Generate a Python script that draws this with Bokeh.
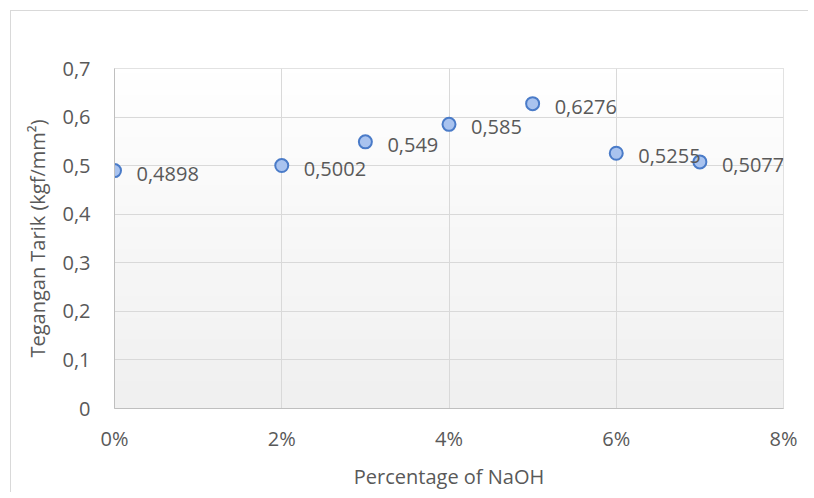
import numpy as np
from bokeh.plotting import figure
from bokeh.models import ColumnDataSource, FixedTicker, Range1d
from bokeh.core.properties import value
from bokeh.embed import file_html
from bokeh.resources import INLINE

# data
naoh = [0.00, 0.02, 0.03, 0.04, 0.05, 0.06, 0.07]
tensile = [0.4898, 0.5002, 0.549, 0.585, 0.6276, 0.5255, 0.5077]
point_labels = [f"{v}".replace(".", ",") for v in tensile]

x_ticks = [0.0, 0.02, 0.04, 0.06, 0.08]
x_tick_labels = ["0%", "2%", "4%", "6%", "8%"]
y_ticks = [0.0, 0.1, 0.2, 0.3, 0.4, 0.5, 0.6, 0.7]
y_tick_labels = ["0", "0,1", "0,2", "0,3", "0,4", "0,5", "0,6", "0,7"]

x_min, x_max = 0.0, 0.08
y_min, y_max = 0.0, 0.7

FONT = "Open Sans"
TXT = "#595959"

p = figure(frame_width=669, frame_height=340,
           x_range=Range1d(x_min, x_max), y_range=Range1d(y_min, y_max),
           output_backend="svg", toolbar_location=None,
           min_border_left=103, min_border_right=25,
           min_border_top=57, min_border_bottom=80,
           margin=(10, 0, 0, 10),
           styles={"border-top": "1px solid #d9d9d9", "border-left": "1px solid #d9d9d9"})
p.background_fill_color = "white"
p.border_fill_color = "white"
p.outline_line_color = "#d9d9d9"
p.outline_line_width = 1

# gradient plot-area background
n = 64
shade = np.linspace(240, 255, n).astype(np.uint32)
img = np.empty((n, 1), dtype=np.uint32)
view = img.view(dtype=np.uint8).reshape((n, 1, 4))
view[:, 0, 0] = shade
view[:, 0, 1] = shade
view[:, 0, 2] = shade
view[:, 0, 3] = 255
bg = p.image_rgba(image=[img], x=x_min, y=y_min, dw=x_max - x_min, dh=y_max - y_min)
bg.level = "image"

# grids
for g in (p.xgrid, p.ygrid):
    g.grid_line_color = "#d9d9d9"
    g.grid_line_width = 1
p.xgrid.ticker = FixedTicker(ticks=x_ticks)
p.ygrid.ticker = FixedTicker(ticks=y_ticks)

# axes
p.xaxis.ticker = FixedTicker(ticks=x_ticks)
p.yaxis.ticker = FixedTicker(ticks=y_ticks)
p.xaxis.major_label_overrides = dict(zip(x_ticks, x_tick_labels))
p.yaxis.major_label_overrides = dict(zip(y_ticks, y_tick_labels))
for ax in (p.xaxis[0], p.yaxis[0]):
    ax.axis_line_color = "#bfbfbf"
    ax.axis_line_width = 1
    ax.major_tick_line_color = None
    ax.minor_tick_line_color = None
    ax.major_tick_out = 0
    ax.major_tick_in = 0
    ax.major_label_text_font = FONT
    ax.major_label_text_font_size = "20px"
    ax.major_label_text_color = TXT
    ax.axis_label_text_font = FONT
    ax.axis_label_text_font_size = "20px"
    ax.axis_label_text_color = TXT
    ax.axis_label_text_font_style = "normal"

p.xaxis.axis_label = "Percentage of NaOH"
p.yaxis.axis_label = "Tegangan Tarik (kgf/mm\u00b2)"
p.xaxis.major_label_standoff = 16
p.xaxis.axis_label_standoff = 8
p.yaxis.major_label_standoff = 24
p.yaxis.axis_label_standoff = 8

src = ColumnDataSource(dict(x=naoh, y=tensile, label=point_labels))

p.scatter("x", "y", source=src, size=13, marker="circle",
          fill_color="#a9c3ef", line_color="#4a7bc8", line_width=2)

p.text("x", "y", text="label", source=src, x_offset=22, y_offset=3,
       text_font=value(FONT), text_font_size="20px", text_color=TXT,
       text_align="left", text_baseline="middle")

open("out.html", "w").write(file_html(p, INLINE))
